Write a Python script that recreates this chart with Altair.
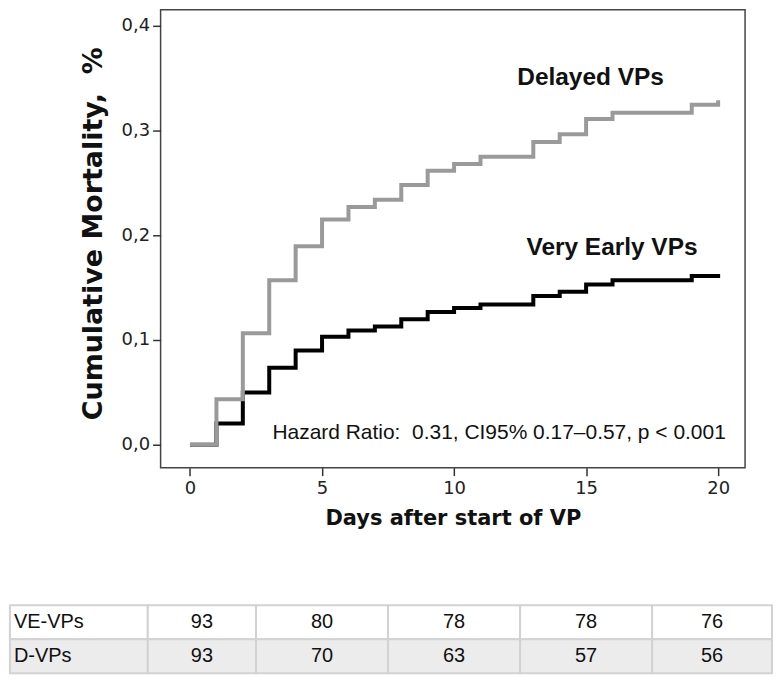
import altair as alt
import pandas as pd

# ---------------- data ----------------
days = list(range(21))
delayed = [0.0, 0.0435, 0.1064, 0.157, 0.1895, 0.215, 0.227, 0.234, 0.248, 0.2616,
           0.268, 0.275, 0.275, 0.289, 0.2965, 0.311, 0.317, 0.317, 0.317, 0.3245, 0.329]
very_early = [0.0, 0.0203, 0.0498, 0.0736, 0.090, 0.103, 0.109, 0.113, 0.1197, 0.1267,
              0.1305, 0.134, 0.134, 0.142, 0.146, 0.153, 0.157, 0.157, 0.157, 0.161, 0.163]

x_ticks = [0, 5, 10, 15, 20]
y_ticks = [0.0, 0.1, 0.2, 0.3, 0.4]

series_labels = ["Delayed VPs", "Very Early VPs"]
label_day = [15.17, 15.98]
label_val = [0.3505, 0.188]

hr_text = "Hazard Ratio:\u00a0 0.31, CI95% 0.17\u20130.57, p < 0.001"
hr_day = [3.12]
hr_val = [0.0114]

risk_days = [0, 5, 10, 15, 20]
risk_rows = ["VE-VPs", "D-VPs"]
risk_ve = [93, 80, 78, 78, 76]
risk_d = [93, 70, 63, 57, 56]

# ---------------- layout constants ----------------
W, H = 586, 459
X_DOMAIN = [-1.114, 21.02]
Y_DOMAIN = [-0.0219, 0.4152]
LABEL_LEFT, LABEL_RIGHT, TABLE_RIGHT = -6.82, -1.6, 22.04

xs = alt.Scale(domain=X_DOMAIN, nice=False, zero=False)
ys = alt.Scale(domain=Y_DOMAIN, nice=False, zero=False)

df_ve = pd.DataFrame({"day": days, "mort": very_early})
df_d = pd.DataFrame({"day": days, "mort": delayed})
df_lab = pd.DataFrame({"label": series_labels, "day": label_day, "mort": label_val})
df_hr = pd.DataFrame({"label": [hr_text], "day": hr_day, "mort": hr_val})

x_axis = alt.Axis(values=x_ticks, title="Days after start of VP", domain=False, grid=False,
                  tickSize=8, tickWidth=1.5, tickColor="#333", format="d",
                  labelFont="DejaVu Sans", labelFontSize=18, labelColor="#222", labelPadding=4,
                  titleFont="DejaVu Sans", titleFontWeight="bold", titleFontSize=21,
                  titleColor="#111", titlePadding=10)
y_axis = alt.Axis(values=y_ticks, title="Cumulative Mortality,\u00a0 %", domain=False, grid=False,
                  tickSize=8, tickWidth=1.5, tickColor="#333",
                  labelExpr="replace(format(datum.value, '.1f'), '.', ',')",
                  labelFont="DejaVu Sans", labelFontSize=18, labelColor="#222", labelPadding=3,
                  titleFont="DejaVu Sans", titleFontWeight="bold", titleFontSize=27,
                  titleColor="#111", titlePadding=14, titleY=224)

line_ve = alt.Chart(df_ve).mark_line(interpolate="step-after", color="#000000", strokeWidth=4).encode(
    x=alt.X("day:Q", scale=xs, axis=x_axis),
    y=alt.Y("mort:Q", scale=ys, axis=y_axis),
)
line_d = alt.Chart(df_d).mark_line(interpolate="step-after", color="#9a9a9a", strokeWidth=4).encode(
    x=alt.X("day:Q", scale=xs),
    y=alt.Y("mort:Q", scale=ys),
)
labels = alt.Chart(df_lab).mark_text(font="Liberation Sans", fontWeight="bold", fontSize=24.5,
                                     align="center", baseline="middle", color="#111").encode(
    x=alt.X("day:Q", scale=xs), y=alt.Y("mort:Q", scale=ys), text="label:N")
hr = alt.Chart(df_hr).mark_text(font="Liberation Sans", fontSize=21, align="left",
                                baseline="middle", color="#111").encode(
    x=alt.X("day:Q", scale=xs), y=alt.Y("mort:Q", scale=ys), text="label:N")

km = alt.layer(line_ve, line_d, labels, hr).properties(
    width=W, height=H,
    view=alt.ViewBackground(stroke="#444", strokeWidth=1.5),
)

# ---------------- number-at-risk table ----------------
mids = [(risk_days[i] + risk_days[i + 1]) / 2 for i in range(len(risk_days) - 1)]
lefts = [LABEL_RIGHT] + mids
rights = mids + [TABLE_RIGHT]
rows = []
for r, vals in zip(risk_rows, [risk_ve, risk_d]):
    rows.append({"row": r, "left": LABEL_LEFT, "right": LABEL_RIGHT, "center": LABEL_LEFT,
                 "text": r, "kind": "label"})
    for i, v in enumerate(vals):
        rows.append({"row": r, "left": lefts[i], "right": rights[i],
                     "center": (lefts[i] + rights[i]) / 2, "text": str(v), "kind": "num"})
tbl = pd.DataFrame(rows)

txs = alt.Scale(domain=X_DOMAIN, nice=False, zero=False)
tys = alt.Scale(domain=risk_rows, paddingInner=0, paddingOuter=0)

cells = alt.Chart(tbl).mark_rect(stroke="#d2d2d2", strokeWidth=2).encode(
    x=alt.X("left:Q", scale=txs, axis=None),
    x2="right:Q",
    y=alt.Y("row:N", scale=tys, axis=None),
    fill=alt.Fill("row:N", scale=alt.Scale(domain=risk_rows, range=["#ffffff", "#ececec"]), legend=None),
)
nums = alt.Chart(tbl).transform_filter("datum.kind == 'num'").mark_text(
    font="Liberation Sans", fontSize=20, color="#111", align="center", baseline="middle").encode(
    x=alt.X("center:Q", scale=txs, axis=None),
    y=alt.Y("row:N", scale=tys, axis=None),
    text="text:N",
)
rlabels = alt.Chart(tbl).transform_filter("datum.kind == 'label'").mark_text(
    font="Liberation Sans", fontSize=20, color="#111", align="left", baseline="middle", dx=4).encode(
    x=alt.X("center:Q", scale=txs, axis=None),
    y=alt.Y("row:N", scale=tys, axis=None),
    text="text:N",
)
table = alt.layer(cells, nums, rlabels).properties(width=W, height=68)

chart = alt.vconcat(km, table, spacing=75).resolve_scale(
    x="independent", y="independent", fill="independent"
).properties(padding=0, background="white").configure_view(strokeWidth=0)

chart.save("out.html", embed_options={"renderer": "svg", "actions": False})
